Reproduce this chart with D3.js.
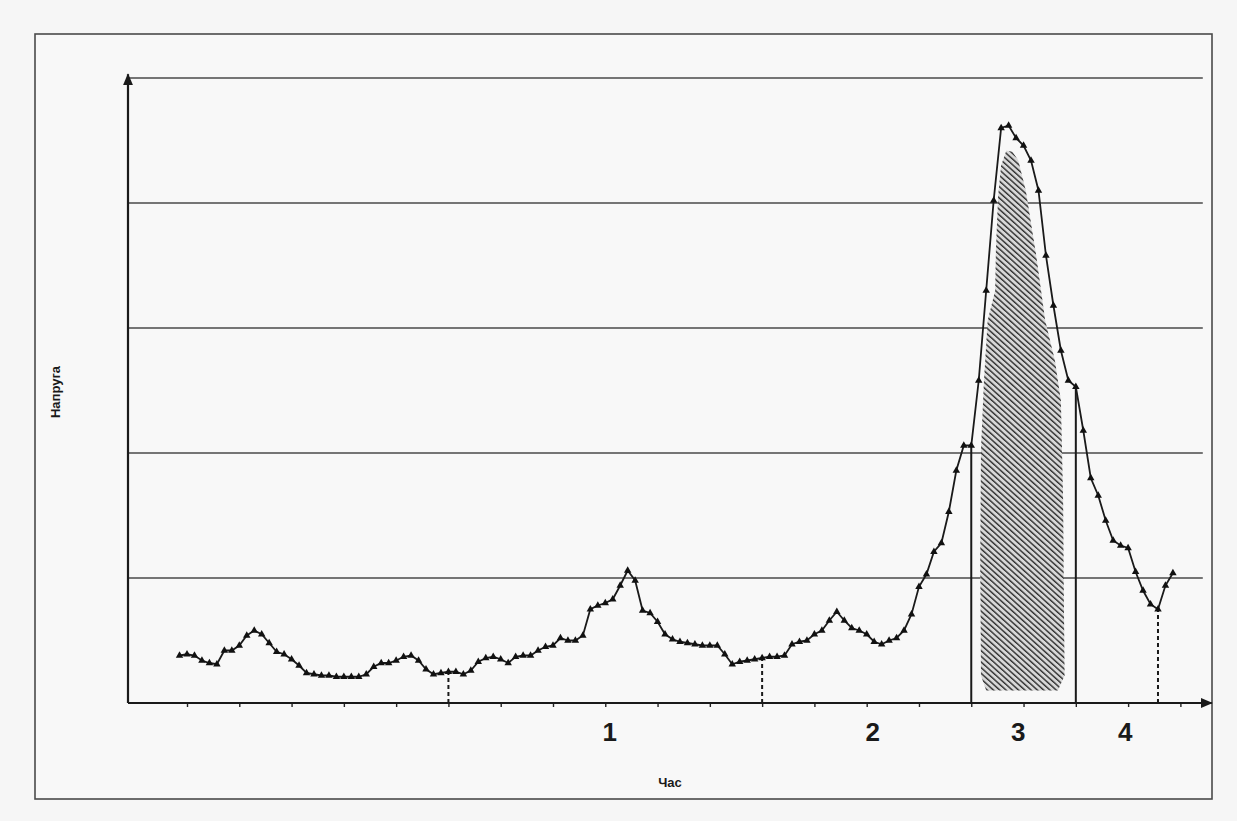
<!DOCTYPE html>
<html>
<head>
<meta charset="utf-8">
<script src="https://cdn.jsdelivr.net/npm/d3@7"></script>
<style>
  html, body { margin: 0; padding: 0; background: #f6f6f6; }
  svg { display: block; }
</style>
</head>
<body>
<svg id="chart" width="1237" height="821"></svg>
<script>
// ---------------- DATA ----------------
// index of the first measured point (points are equally spaced)
const firstIndex = 6;
// series values (voltage, arbitrary units: one grid step = 1)
const values = [
  0.38, 0.39, 0.38, 0.34, 0.32, 0.31, 0.42, 0.42, 0.46, 0.54,
  0.58, 0.55, 0.48, 0.41, 0.39, 0.35, 0.30, 0.24, 0.23, 0.22,
  0.22, 0.21, 0.21, 0.21, 0.21, 0.23, 0.29, 0.32, 0.32, 0.34,
  0.37, 0.38, 0.34, 0.27, 0.23, 0.24, 0.25, 0.25, 0.23, 0.26,
  0.33, 0.36, 0.37, 0.35, 0.32, 0.37, 0.38, 0.38, 0.42, 0.45,
  0.46, 0.52, 0.50, 0.50, 0.54, 0.75, 0.78, 0.80, 0.83, 0.94,
  1.06, 0.98, 0.74, 0.72, 0.65, 0.55, 0.51, 0.49, 0.48, 0.47,
  0.46, 0.46, 0.46, 0.39, 0.31, 0.33, 0.34, 0.35, 0.36, 0.37,
  0.37, 0.38, 0.47, 0.49, 0.50, 0.55, 0.58, 0.66, 0.73, 0.66,
  0.60, 0.58, 0.55, 0.49, 0.47, 0.50, 0.52, 0.58, 0.71, 0.93,
  1.03, 1.21, 1.28, 1.53, 1.86, 2.06, 2.06, 2.58, 3.30, 4.02,
  4.60, 4.62, 4.52, 4.46, 4.34, 4.10, 3.58, 3.18, 2.82, 2.58,
  2.53, 2.18, 1.80, 1.66, 1.46, 1.30, 1.26, 1.24, 1.05, 0.90,
  0.79, 0.75, 0.94, 1.04
];
// grid levels
const gridLevels = [1, 2, 3, 4, 5];
// x tick positions (point index), one tick every 7 points
const tickIndex = [7, 14, 21, 28, 35, 42, 49, 56, 63, 70, 77, 84, 91, 98, 105, 112, 119, 126, 133, 140];
// solid vertical markers (point index) bounding phase 3
const solidMarks = [112, 126];
// dashed vertical markers (point index)
const dashedMarks = [42, 84, 137];
// phase labels and their positions (point index)
const phaseLabels = ["1", "2", "3", "4"];
const phasePos = [63.6, 98.8, 118.3, 132.6];
// hatched region outline (point index, value)
const hatchIdx = [114.0, 113.3, 113.2, 113.3, 113.7, 114.2, 115.2, 115.3, 115.6, 116.0, 116.7, 117.5, 118.3, 119.3, 120.7, 121.9, 123.2, 124.0, 124.3, 124.4, 124.5, 123.6];
const hatchVal = [0.10, 0.22, 1.14, 2.02, 2.58, 3.06, 3.30, 3.62, 4.06, 4.30, 4.42, 4.41, 4.34, 4.10, 3.58, 3.06, 2.74, 2.42, 1.62, 0.82, 0.22, 0.10];
const yTitle = "Напруга";
const xTitle = "Час";

// ---------------- DRAW ----------------
const svg = d3.select("#chart");

const x = d3.scaleLinear().domain([-0.9, 143]).range([128, 1202.8]);
const y = d3.scaleLinear().domain([0, 5]).range([703, 78]);

const defs = svg.append("defs");
defs.append("marker")
  .attr("id", "arrow").attr("viewBox", "0 0 12 10")
  .attr("refX", 11).attr("refY", 5)
  .attr("markerWidth", 12).attr("markerHeight", 10)
  .attr("markerUnits", "userSpaceOnUse")
  .attr("orient", "auto")
  .append("path").attr("d", "M0,0 L12,5 L0,10 Z").attr("fill", "#1a1a1a");

const pat = defs.append("pattern")
  .attr("id", "hatch").attr("patternUnits", "userSpaceOnUse")
  .attr("width", 4.2).attr("height", 4.2)
  .attr("patternTransform", "rotate(-48)");
pat.append("rect").attr("width", 4.2).attr("height", 4.2).attr("fill", "#d8d8d8");
pat.append("line").attr("x1", 0).attr("y1", 0).attr("x2", 0).attr("y2", 4.2)
  .attr("stroke", "#2e2e2e").attr("stroke-width", 2.8);

// outer frame
svg.append("rect")
  .attr("x", 35).attr("y", 34).attr("width", 1177).attr("height", 765)
  .attr("fill", "#f8f8f8").attr("stroke", "#4a4a4a").attr("stroke-width", 1.6);

// grid lines
svg.append("g").selectAll("line").data(gridLevels).join("line")
  .attr("x1", x(-0.9)).attr("x2", x(143))
  .attr("y1", d => y(d)).attr("y2", d => y(d))
  .attr("stroke", "#4a4a4a").attr("stroke-width", 1.6);

// hatched area
const hatchPts = hatchIdx.map((d, i) => [x(d), y(hatchVal[i])]);
svg.append("path")
  .attr("d", d3.line().curve(d3.curveLinearClosed)(hatchPts))
  .attr("fill", "url(#hatch)").attr("stroke", "none");

// x tick marks
const xAxis = d3.axisBottom(x).tickValues(tickIndex).tickSize(4).tickFormat("");
const gx = svg.append("g").attr("transform", `translate(0,${y(0)})`).call(xAxis);
gx.select(".domain").remove();
gx.selectAll(".tick line").attr("stroke", "#222").attr("stroke-width", 1.4);

// axes with arrows
svg.append("line")
  .attr("x1", x(-0.9)).attr("y1", y(0)).attr("x2", x(144.2)).attr("y2", y(0))
  .attr("stroke", "#1a1a1a").attr("stroke-width", 2.2).attr("marker-end", "url(#arrow)");
svg.append("line")
  .attr("x1", x(-0.9)).attr("y1", y(0)).attr("x2", x(-0.9)).attr("y2", y(5.03))
  .attr("stroke", "#1a1a1a").attr("stroke-width", 2.2).attr("marker-end", "url(#arrow)");

// series points
const pts = values.map((v, i) => ({ n: firstIndex + i, v }));
const valAt = n => values[n - firstIndex];

// solid vertical lines
svg.append("g").selectAll("line").data(solidMarks).join("line")
  .attr("x1", d => x(d)).attr("x2", d => x(d))
  .attr("y1", y(0)).attr("y2", d => y(valAt(d)))
  .attr("stroke", "#1a1a1a").attr("stroke-width", 2);

// dashed vertical lines
svg.append("g").selectAll("line").data(dashedMarks).join("line")
  .attr("x1", d => x(d)).attr("x2", d => x(d))
  .attr("y1", y(0)).attr("y2", d => y(valAt(d)))
  .attr("stroke", "#1a1a1a").attr("stroke-width", 2).attr("stroke-dasharray", "4,3");

// line
svg.append("path")
  .datum(pts)
  .attr("d", d3.line().x(d => x(d.n)).y(d => y(d.v)))
  .attr("fill", "none").attr("stroke", "#1a1a1a").attr("stroke-width", 1.8);

// triangle markers
const tri = d3.symbol().type(d3.symbolTriangle).size(24);
svg.append("g").selectAll("path").data(pts).join("path")
  .attr("transform", d => `translate(${x(d.n)},${y(d.v)})`)
  .attr("d", tri)
  .attr("fill", "#111");

// phase labels
svg.append("g").selectAll("text").data(phaseLabels).join("text")
  .attr("x", (d, i) => x(phasePos[i])).attr("y", 741)
  .attr("text-anchor", "middle")
  .attr("font-family", "Liberation Sans, Arial, sans-serif")
  .attr("font-weight", "bold").attr("font-size", 26)
  .attr("fill", "#1a1a1a")
  .text(d => d);

// axis titles
svg.append("text")
  .attr("x", 670).attr("y", 787)
  .attr("text-anchor", "middle")
  .attr("font-family", "Liberation Sans, Arial, sans-serif")
  .attr("font-weight", "bold").attr("font-size", 13)
  .attr("fill", "#1a1a1a")
  .text(xTitle);
svg.append("text")
  .attr("transform", "translate(60,392) rotate(-90)")
  .attr("text-anchor", "middle")
  .attr("font-family", "Liberation Sans, Arial, sans-serif")
  .attr("font-weight", "bold").attr("font-size", 13)
  .attr("fill", "#1a1a1a")
  .text(yTitle);
</script>
</body>
</html>
